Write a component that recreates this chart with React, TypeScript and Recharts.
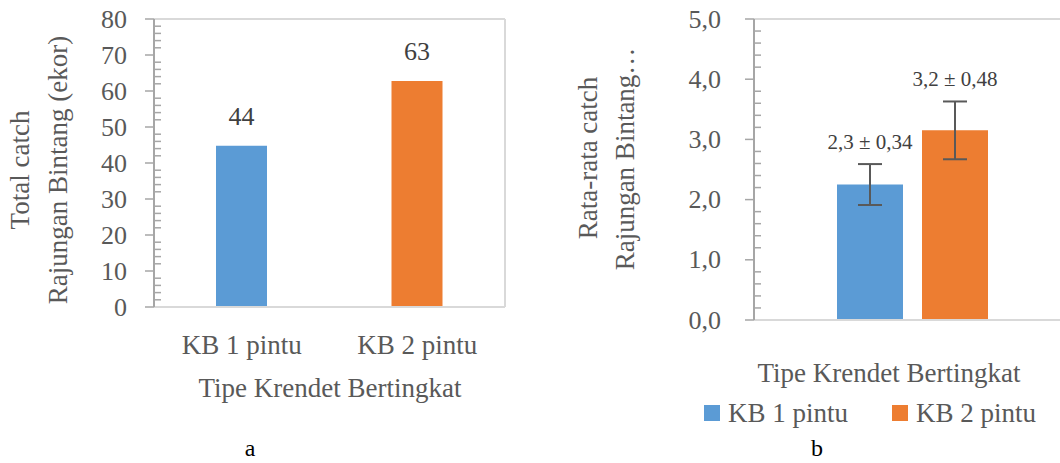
import React from 'react';
import { BarChart, Bar, XAxis, YAxis, Cell, LabelList, ErrorBar } from 'recharts';

const CATEGORIES = ['KB 1 pintu', 'KB 2 pintu'];
const TOTAL_CATCH = [44.8, 62.8];
const TOTAL_LABELS = ['44', '63'];
const MEAN_CATCH = [2.25, 3.15];
const MEAN_SD = [0.34, 0.48];
const MEAN_LABELS = ['2,3 ± 0,34', '3,2 ± 0,48'];
const TICKS_A = Array.from({ length: 41 }, (_, i) => i * 2);
const TICKS_B = Array.from({ length: 26 }, (_, i) => Math.round(i * 2) / 10);

const COLORS = ['#5B9BD5', '#ED7D31'];
const TEXT = '#595959';
const AXIS = '#A6A6A6';
const BORDER = '#D9D9D9';
const FONT = '"Liberation Serif", serif';

const dataA = CATEGORIES.map((name, i) => ({ name, total: TOTAL_CATCH[i], label: TOTAL_LABELS[i] }));
const dataB = [
  {
    name: '',
    kb1: MEAN_CATCH[0],
    kb2: MEAN_CATCH[1],
    sd1: MEAN_SD[0],
    sd2: MEAN_SD[1],
    lab1: MEAN_LABELS[0],
    lab2: MEAN_LABELS[1],
  },
];

// y ticks: major every `major` (outside, with label), minor ones inside the plot
function makeYTick(major: number, labelGap: number, fmt: (v: number) => string) {
  return (props: any) => {
    const { x, y, payload } = props;
    const v = payload.value as number;
    const isMajor = Math.abs(v / major - Math.round(v / major)) < 1e-6;
    if (!isMajor) {
      return <line x1={x} x2={x + 7} y1={y} y2={y} stroke={AXIS} strokeWidth={1.5} />;
    }
    return (
      <g>
        <line x1={x - 9} x2={x} y1={y} y2={y} stroke={AXIS} strokeWidth={1.5} />
        <text x={x - labelGap} y={y} textAnchor="end" dominantBaseline="central" fill={TEXT} fontSize={26} fontFamily={FONT}>
          {fmt(v)}
        </text>
      </g>
    );
  };
}

const catTick = (props: any) => (
  <text x={props.x} y={props.y + 38} textAnchor="middle" dominantBaseline="central" fill={TEXT} fontSize={27} fontFamily={FONT}>
    {props.payload.value}
  </text>
);

function TotalChart() {
  return (
    <BarChart width={520} height={463} data={dataA} margin={{ top: 18, right: 14, left: 144, bottom: 146 }} barSize={51}>
      <XAxis
        dataKey="name"
        height={10}
        tickLine={false}
        tickSize={0}
        tickMargin={0}
        axisLine={{ stroke: BORDER, strokeWidth: 2 }}
        tick={catTick}
        label={{
          content: () => (
            <text x={330} y={388} textAnchor="middle" dominantBaseline="central" fill={TEXT} fontSize={27} fontFamily={FONT}>
              Tipe Krendet Bertingkat
            </text>
          ),
        }}
      />
      <XAxis xAxisId="top" orientation="top" height={1} tick={false} tickLine={false} axisLine={{ stroke: BORDER, strokeWidth: 2 }} />
      <YAxis
        width={10}
        domain={[0, 80]}
        ticks={TICKS_A}
        interval={0}
        tickLine={false}
        tickSize={0}
        tickMargin={0}
        axisLine={{ stroke: AXIS, strokeWidth: 2 }}
        tick={makeYTick(10, 27, (v) => String(v))}
        label={{
          content: () => (
            <g fill={TEXT} fontSize={27} fontFamily={FONT}>
              <text x={20} y={170} transform="rotate(-90 20 170)" textAnchor="middle" dominantBaseline="central">
                Total catch
              </text>
              <text x={58} y={170} transform="rotate(-90 58 170)" textAnchor="middle" dominantBaseline="central">
                Rajungan Bintang (ekor)
              </text>
            </g>
          ),
        }}
      />
      <YAxis yAxisId="r" orientation="right" width={1} tick={false} tickLine={false} axisLine={{ stroke: BORDER, strokeWidth: 2 }} />
      <Bar dataKey="total" isAnimationActive={false}>
        {dataA.map((d, i) => (
          <Cell key={d.name} fill={COLORS[i]} />
        ))}
        <LabelList
          dataKey="label"
          content={(p: any) => (
            <text x={p.x + p.width / 2} y={p.y - 29} textAnchor="middle" dominantBaseline="central" fill="#404040" fontSize={26} fontFamily={FONT}>
              {p.value}
            </text>
          )}
        />
      </Bar>
    </BarChart>
  );
}

function meanLabel(i: number) {
  return (p: any) => {
    const errTop = p.y - (p.height * MEAN_SD[i]) / MEAN_CATCH[i];
    return (
      <text x={p.x + p.width / 2} y={errTop - 22} textAnchor="middle" dominantBaseline="central" fill="#404040" fontSize={21} fontFamily={FONT}>
        {p.value}
      </text>
    );
  };
}

function MeanChart() {
  return (
    <BarChart width={520} height={463} data={dataB} margin={{ top: 18, right: 10, left: 184, bottom: 133 }} barSize={66} barGap={19}>
      <XAxis
        dataKey="name"
        height={10}
        tick={false}
        tickLine={false}
        axisLine={{ stroke: BORDER, strokeWidth: 2 }}
        label={{
          content: () => (
            <text x={329} y={373} textAnchor="middle" dominantBaseline="central" fill={TEXT} fontSize={27} fontFamily={FONT}>
              Tipe Krendet Bertingkat
            </text>
          ),
        }}
      />
      <XAxis xAxisId="top" orientation="top" height={1} tick={false} tickLine={false} axisLine={{ stroke: BORDER, strokeWidth: 2 }} />
      <YAxis
        width={10}
        domain={[0, 5]}
        ticks={TICKS_B}
        interval={0}
        tickLine={false}
        tickSize={0}
        tickMargin={0}
        axisLine={{ stroke: AXIS, strokeWidth: 2 }}
        tick={makeYTick(1, 33, (v) => v.toFixed(1).replace('.', ','))}
        label={{
          content: () => (
            <g fill={TEXT} fontSize={27} fontFamily={FONT}>
              <text x={28} y={158} transform="rotate(-90 28 158)" textAnchor="middle" dominantBaseline="central">
                Rata-rata catch
              </text>
              <text x={65} y={159} transform="rotate(-90 65 159)" textAnchor="middle" dominantBaseline="central">
                Rajungan Bintang…
              </text>
            </g>
          ),
        }}
      />
      <Bar dataKey="kb1" name={CATEGORIES[0]} fill={COLORS[0]} isAnimationActive={false}>
        <ErrorBar dataKey="sd1" width={12} strokeWidth={2} stroke="#595959" direction="y" />
        <LabelList dataKey="lab1" content={meanLabel(0)} />
      </Bar>
      <Bar dataKey="kb2" name={CATEGORIES[1]} fill={COLORS[1]} isAnimationActive={false}>
        <ErrorBar dataKey="sd2" width={12} strokeWidth={2} stroke="#595959" direction="y" />
        <LabelList dataKey="lab2" content={meanLabel(1)} />
      </Bar>
    </BarChart>
  );
}

export default function App() {
  return (
    <div
      style={{
        position: 'absolute',
        left: 0,
        top: 0,
        width: 1060,
        height: 463,
        overflow: 'hidden',
        background: '#fff',
        fontFamily: FONT,
      }}
    >
      <div style={{ position: 'absolute', left: 0, top: 0 }}>
        <TotalChart />
      </div>
      <div style={{ position: 'absolute', left: 560, top: 0 }}>
        <MeanChart />
      </div>
      {/* legend of chart b */}
      {CATEGORIES.map((c, i) => (
        <div
          key={c}
          style={{
            position: 'absolute',
            left: i === 0 ? 704 : 892,
            top: 397,
            display: 'flex',
            alignItems: 'center',
            gap: 8,
            color: TEXT,
            fontSize: 27,
            lineHeight: '32px',
          }}
        >
          <span style={{ width: 16, height: 16, background: COLORS[i], display: 'inline-block' }} />
          <span>{c}</span>
        </div>
      ))}
      <div style={{ position: 'absolute', left: 241, top: 436, width: 18, textAlign: 'center', fontSize: 24, lineHeight: '24px', color: '#000' }}>a</div>
      <div style={{ position: 'absolute', left: 808, top: 436, width: 18, textAlign: 'center', fontSize: 24, lineHeight: '24px', color: '#000' }}>b</div>
    </div>
  );
}
